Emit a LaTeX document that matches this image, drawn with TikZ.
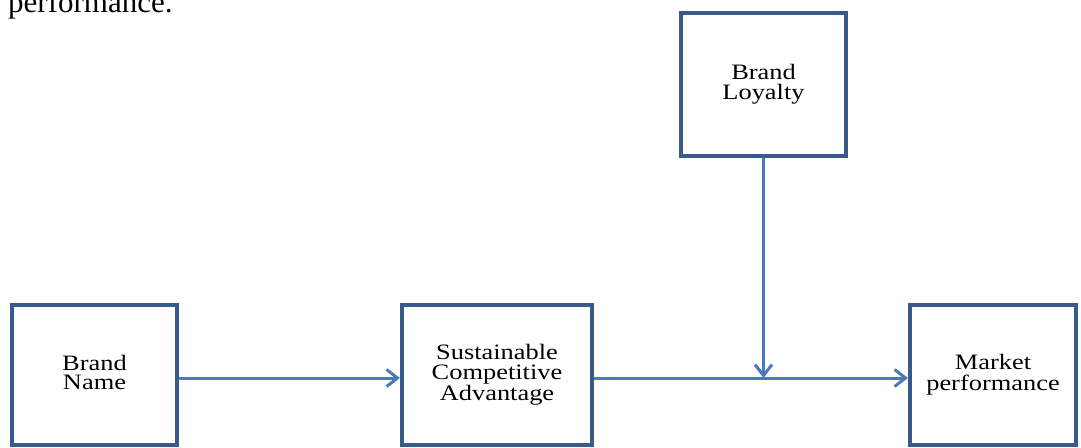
\documentclass[tikz,border=0pt]{standalone}
\usepackage{fontspec}
\setmainfont{Liberation Serif}
\usepackage{graphicx}
\usetikzlibrary{arrows.meta}
\definecolor{boxblue}{RGB}{56,90,140}
\definecolor{arrblue}{RGB}{74,122,188}
\newcommand{\boxtext}[1]{\scalebox{1.2}[1]{\begin{tabular}{@{}c@{}}#1\end{tabular}}}

\begin{document}
\begin{tikzpicture}[x=1pt, y=-1pt, %
      bx/.style={draw=boxblue, line width=4pt, fill=white, inner sep=0pt, font=\fontsize{22}{18}\selectfont}, %
      ar/.style={draw=arrblue, line width=3pt, -{Straight Barb[length=11pt,width=17pt]}}, %
      ]
    \useasboundingbox (0,0) rectangle (1081,447);

    \node[anchor=base west, inner sep=0pt, font=\fontsize{31}{36}\selectfont] (prevtext) at (8,12.7) {performance.};

    \foreach \a/\x/\y/\w/\h/\lab in { %
      bloyal/763.5/84.5/165/143/{Brand\\Loyalty},%
      bname/94.5/375/165/140/{Brand\\Name},%
      sca/497/375/190/140/{Sustainable\\Competitive\\Advantage},%
      mperf/993/375/166/140/{Market\\performance}%
    }{ %
      \node[bx, minimum width=\w pt, minimum height=\h pt] (\a) at (\x,\y) {\boxtext{\lab}};
      }

    \coordinate (jn) at (763.5,378);

    \foreach \from/\to in { %
      bname/sca, sca/mperf%
    }{ \draw[ar] ([yshift=-3pt]\from.east) -- ([yshift=-3pt]\to.west);
    }

    \draw[ar] (bloyal) -- (jn);
\end{tikzpicture}
\end{document}
